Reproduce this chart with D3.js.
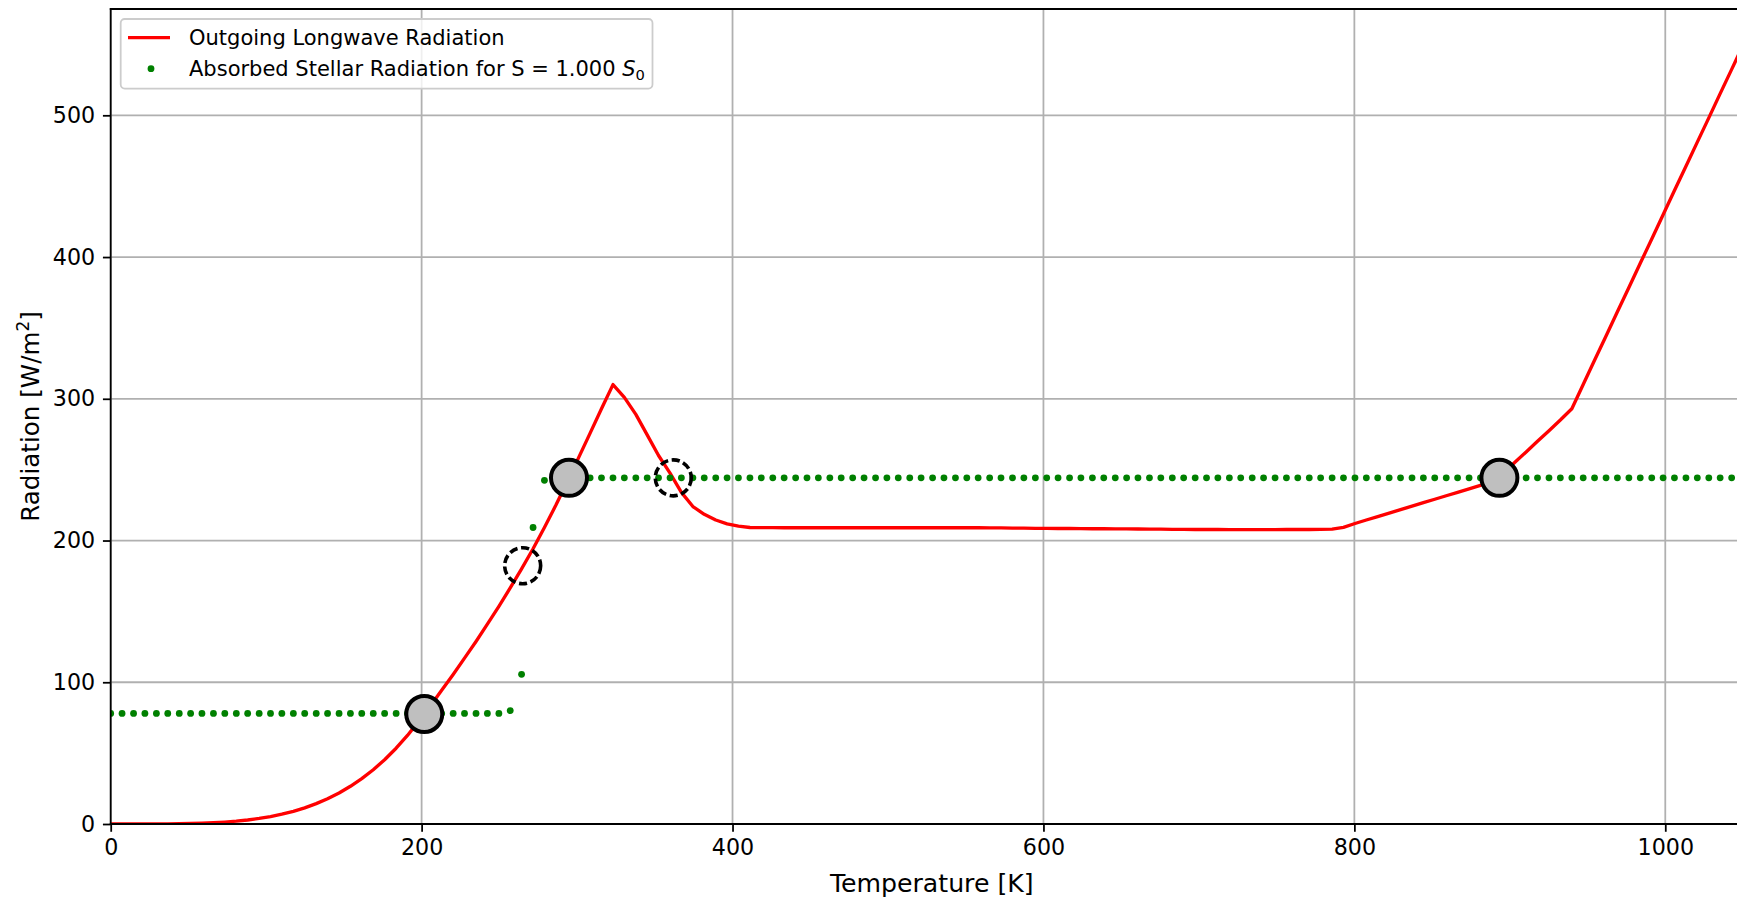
<!DOCTYPE html>
<html><head><meta charset="utf-8">
<script src="https://cdn.jsdelivr.net/npm/d3@7"></script>
<style>
html,body{margin:0;padding:0;background:#fff;}
svg{display:block;font-family:"DejaVu Sans",sans-serif;}
</style></head>
<body>
<svg id="chart" width="1737" height="898"></svg>
<script>
// Temperature grid [K]
const temperature = [
  0.0,7.3,14.7,22.0,29.4,36.7,44.1,51.4,58.7,66.1,
  73.4,80.8,88.1,95.5,102.8,110.1,117.5,124.8,132.2,139.5,
  146.9,154.2,161.5,168.9,176.2,183.6,190.9,198.3,205.6,212.9,
  220.3,227.6,235.0,242.3,249.7,257.0,264.3,271.7,279.0,286.4,
  293.7,301.0,308.4,315.7,323.1,330.4,337.8,345.1,352.4,359.8,
  367.1,374.5,381.8,389.2,396.5,403.8,411.2,418.5,425.9,433.2,
  440.6,447.9,455.2,462.6,469.9,477.3,484.6,492.0,499.3,506.6,
  514.0,521.3,528.7,536.0,543.4,550.7,558.0,565.4,572.7,580.1,
  587.4,594.8,602.1,609.4,616.8,624.1,631.5,638.8,646.2,653.5,
  660.8,668.2,675.5,682.9,690.2,697.6,704.9,712.2,719.6,726.9,
  734.3,741.6,749.0,756.3,763.6,771.0,778.3,785.7,793.0,800.4,
  807.7,815.0,822.4,829.7,837.1,844.4,851.7,859.1,866.4,873.8,
  881.1,888.5,895.8,903.1,910.5,917.8,925.2,932.5,939.9,947.2,
  954.5,961.9,969.2,976.6,983.9,991.3,998.6,1005.9,1013.3,1020.6,
  1028.0,1035.3,1042.7,1050.0];

// Outgoing Longwave Radiation [W/m^2]
const olr = [
  0,0,0.002,0.011,0.035,0.085,0.18,0.33,0.56,0.90,
  1.37,2.01,2.83,3.91,5.26,6.91,8.97,11.42,14.37,17.82,
  21.91,26.61,32.01,38.30,45.36,53.47,62.50,72.77,83.3,94.3,
  105.5,117.0,128.8,141.0,153.6,166.6,180.0,194.2,209.2,225.0,
  241.5,258.5,275.8,293.0,310.0,301.0,289.0,274.5,260.0,247.5,
  234.0,224.0,218.5,214.5,211.8,210.2,209.2,209.1,209.1,209.0,
  209.0,209.0,209.0,209.0,209.0,209.0,209.0,209.0,209.0,209.0,
  209.0,209.0,209.0,209.0,209.0,209.0,209.0,208.9,208.9,208.8,
  208.7,208.6,208.6,208.5,208.5,208.4,208.3,208.3,208.2,208.2,
  208.1,208.0,208.0,207.9,207.9,207.8,207.8,207.8,207.7,207.7,
  207.7,207.7,207.7,207.8,207.8,207.8,207.9,208.0,209.3,212.0,
  214.5,216.9,219.3,221.8,224.2,226.7,229.1,231.6,234.0,236.5,
  238.9,241.4,247.5,255.0,262.5,270.0,277.5,285.0,293.0,310.1,
  327.2,344.3,361.4,378.5,395.6,412.7,429.8,446.9,464.0,481.1,
  498.2,515.3,532.4,549.5];

// Absorbed Stellar Radiation for S = 1.000 S0 [W/m^2]
const asr = [
  78.0,78.0,78.0,78.0,78.0,78.0,78.0,78.0,78.0,78.0,
  78.0,78.0,78.0,78.0,78.0,78.0,78.0,78.0,78.0,78.0,
  78.0,78.0,78.0,78.0,78.0,78.0,78.0,78.0,78.0,78.0,
  78.0,78.0,78.0,78.0,78.0,80.0,105.6,209.2,242.5,244.2,
  244.2,244.2,244.2,244.2,244.2,244.2,244.2,244.2,244.2,244.2,
  244.2,244.2,244.2,244.2,244.2,244.2,244.2,244.2,244.2,244.2,
  244.2,244.2,244.2,244.2,244.2,244.2,244.2,244.2,244.2,244.2,
  244.2,244.2,244.2,244.2,244.2,244.2,244.2,244.2,244.2,244.2,
  244.2,244.2,244.2,244.2,244.2,244.2,244.2,244.2,244.2,244.2,
  244.2,244.2,244.2,244.2,244.2,244.2,244.2,244.2,244.2,244.2,
  244.2,244.2,244.2,244.2,244.2,244.2,244.2,244.2,244.2,244.2,
  244.2,244.2,244.2,244.2,244.2,244.2,244.2,244.2,244.2,244.2,
  244.2,244.2,244.2,244.2,244.2,244.2,244.2,244.2,244.2,244.2,
  244.2,244.2,244.2,244.2,244.2,244.2,244.2,244.2,244.2,244.2,
  244.2,244.2,244.2,244.2];

// Equilibria
const stableT = [201.7, 294.8, 893.3];
const stableR = [77.6, 244.2, 244.2];
const unstableT = [265.0, 361.9];
const unstableR = [182.2, 244.2];

const xTicks = [0, 200, 400, 600, 800, 1000];
const yTicks = [0, 100, 200, 300, 400, 500];
const xDomain = [0, 1056.3];
const yDomain = [0, 575];

const svg = d3.select("#chart");
const pL = 110.7, pT = 9, pR = 1752.8, pB = 824;
const x = d3.scaleLinear().domain(xDomain).range([pL, pR]);
const y = d3.scaleLinear().domain(yDomain).range([pB, pT]);
const px = 160/72; // points to pixels

svg.append("defs").append("clipPath").attr("id","clip")
  .append("rect").attr("x",pL).attr("y",pT).attr("width",pR-pL).attr("height",pB-pT);

// grid
const grid = svg.append("g");
grid.selectAll("line.gx").data(xTicks).join("line")
  .attr("x1",d=>x(d)).attr("x2",d=>x(d)).attr("y1",pT).attr("y2",pB)
  .attr("stroke","#b0b0b0").attr("stroke-width",0.8*px);
grid.selectAll("line.gy").data(yTicks).join("line")
  .attr("y1",d=>y(d)).attr("y2",d=>y(d)).attr("x1",pL).attr("x2",pR)
  .attr("stroke","#b0b0b0").attr("stroke-width",0.8*px);

const plot = svg.append("g").attr("clip-path","url(#clip)");
const pts = temperature.map((t,i)=>({t, o: olr[i], a: asr[i]}));

plot.append("path").datum(pts)
  .attr("d", d3.line().x(d=>x(d.t)).y(d=>y(d.o)))
  .attr("fill","none").attr("stroke","#ff0000").attr("stroke-width",1.5*px)
  .attr("stroke-linejoin","round").attr("stroke-linecap","square");

plot.selectAll("circle.asr").data(pts).join("circle")
  .attr("cx",d=>x(d.t)).attr("cy",d=>y(d.a)).attr("r",3.4).attr("fill","#008000");

plot.selectAll("circle.st").data(stableT.map((t,i)=>[t,stableR[i]])).join("circle")
  .attr("cx",d=>x(d[0])).attr("cy",d=>y(d[1])).attr("r",18)
  .attr("fill","#bfbfbf").attr("stroke","#000").attr("stroke-width",4);

plot.selectAll("circle.un").data(unstableT.map((t,i)=>[t,unstableR[i]])).join("circle")
  .attr("cx",d=>x(d[0])).attr("cy",d=>y(d[1])).attr("r",18)
  .attr("fill","none").attr("stroke","#000").attr("stroke-width",3.6)
  .attr("stroke-dasharray","8.2,3.6");

// axes
const tickLen = 3.5*px, tickPad = 3.5*px;
const fs = 22.2;
const xAxis = svg.append("g").attr("transform",`translate(0,${pB})`)
  .call(d3.axisBottom(x).tickValues(xTicks).tickSize(tickLen).tickPadding(tickPad).tickFormat(d3.format("d")));
const yAxis = svg.append("g").attr("transform",`translate(${pL},0)`)
  .call(d3.axisLeft(y).tickValues(yTicks).tickSize(tickLen).tickPadding(tickPad).tickFormat(d3.format("d")));
[xAxis,yAxis].forEach(a=>{
  a.select(".domain").remove();
  a.selectAll(".tick line").attr("stroke","#000").attr("stroke-width",0.8*px);
  a.selectAll(".tick text").attr("fill","#000").attr("font-size",fs).attr("font-family","DejaVu Sans");
});

// spines
const sp = svg.append("g").attr("stroke","#000").attr("stroke-width",0.8*px).attr("stroke-linecap","square");
sp.append("line").attr("x1",pL).attr("x2",pL).attr("y1",pT).attr("y2",pB);
sp.append("line").attr("x1",pL).attr("x2",pR).attr("y1",pB).attr("y2",pB);
sp.append("line").attr("x1",pL).attr("x2",pR).attr("y1",pT).attr("y2",pT);
sp.append("line").attr("x1",pR).attr("x2",pR).attr("y1",pT).attr("y2",pB);

// axis labels
svg.append("text").attr("x",(pL+pR)/2).attr("y",892).attr("text-anchor","middle")
  .attr("font-size",25.2).attr("fill","#000").text("Temperature [K]");
const yl = svg.append("text").attr("transform",`translate(39,${(pT+pB)/2}) rotate(-90)`)
  .attr("text-anchor","middle").attr("font-size",24.6).attr("fill","#000");
yl.append("tspan").text("Radiation [W/m");
yl.append("tspan").attr("font-size",17).attr("dy",-10).text("2");
yl.append("tspan").attr("dy",10).text("]");

// legend
const lg = svg.append("g");
lg.append("rect").attr("x",120.7).attr("y",19).attr("width",531.8).attr("height",69.6).attr("rx",4)
  .attr("fill","#fff").attr("fill-opacity",0.8).attr("stroke","#cccccc").attr("stroke-width",0.8*px);
lg.append("line").attr("x1",128).attr("x2",170).attr("y1",37.7).attr("y2",37.7)
  .attr("stroke","#ff0000").attr("stroke-width",1.5*px);
lg.append("circle").attr("cx",151).attr("cy",68.7).attr("r",3.4).attr("fill","#008000");
const lfs = 21;
lg.append("text").attr("x",189).attr("y",45).attr("font-size",lfs).attr("fill","#000").text("Outgoing Longwave Radiation");
const t2 = lg.append("text").attr("x",189).attr("y",76).attr("font-size",lfs).attr("fill","#000");
t2.append("tspan").text("Absorbed Stellar Radiation for S = 1.000 ");
t2.append("tspan").attr("font-style","italic").text("S");
t2.append("tspan").attr("font-size",14.7).attr("dy",4).text("0");
</script>
</body></html>
